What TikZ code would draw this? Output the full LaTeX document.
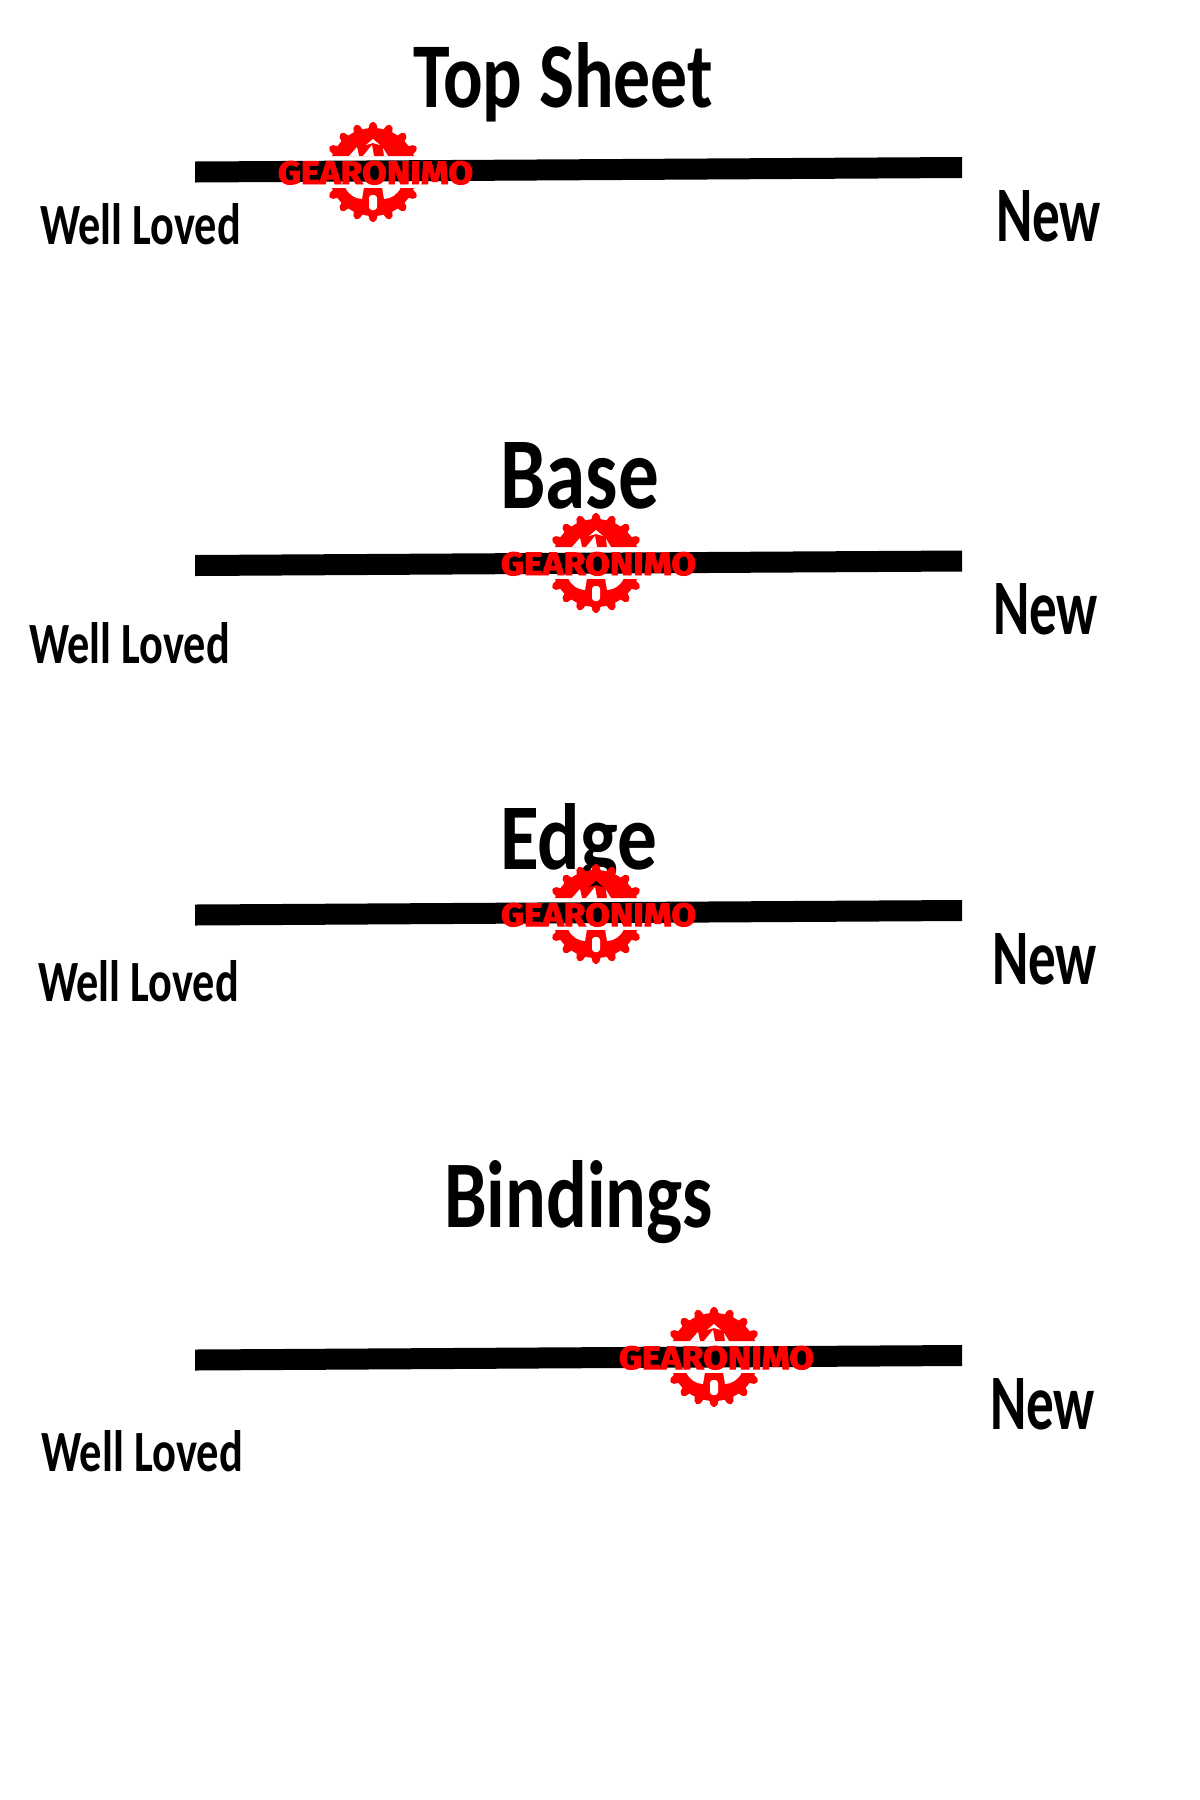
\documentclass[tikz,border=0pt]{standalone}
\usepackage{fontspec}
\usepackage{graphicx}
\setmainfont{Carlito}
\newfontfamily\logofont[FakeBold=3]{Fira Sans}
\newdimen\upx \upx=0.5pt
\definecolor{logored}{RGB}{255,0,0}
\tikzset{barfill/.style={fill=black,draw=none}}
\newcommand{\lbl}[6]{\node[anchor=base west,inner sep=0pt,outer sep=0pt] (#1) at (#2,#3) {\resizebox{#4\upx}{#5\upx}{\bfseries #6}};}
% name, gear x, gear y, colour seen through the hole at the peak
\newcommand{\gearlogo}[4]{%
\begin{scope}[shift={(#2,#3)}]
 \begin{scope}
  \clip (-60,-60) rectangle (60,-16) (-60,16) rectangle (60,60);
  \fill[logored] (0,0) circle (44);
  \foreach \a in {90,70,50,30,10,-10,-30,-50,-70,-90,-110,-130,-150,-170,170,150,130,110}
   \fill[logored,rounded corners=2\upx] (\a-7:42) -- (\a-3.2:50) -- (\a+3.2:50) -- (\a+7:42) -- cycle;
  \fill[white] (-24,-16) -- (-16,-25) -- (-14,-16) -- cycle;
  \fill[white] (-10,-16) -- (-1,-27) -- (1,-16) -- cycle;
  \fill[white] (10,-24) -- (15,-16) -- (11,-16) -- cycle;
  \fill[#4] (-7,-27) -- (0,-33) -- (7,-27) -- (0,-29) -- cycle;
  \fill[white] (-28,15) .. controls (-25,22) and (-18,27) .. (-11,27) -- (-9,15) -- cycle;
  \fill[white] (28,15) .. controls (25,22) and (18,27) .. (11,27) -- (9,15) -- cycle;
  \fill[white,rounded corners=3\upx] (-4,23) rectangle (4,38);
 \end{scope}
 \node[anchor=base,inner sep=0pt,text=logored] (#1) at (2.5,12) {\resizebox{195\upx}{23\upx}{\logofont\bfseries GEARONIMO}};
\end{scope}}
\begin{document}
\begin{tikzpicture}[x=0.5pt,y=-0.5pt]
\useasboundingbox (0,0) rectangle (1200,1800);
\fill[white] (0,0) rectangle (1200,1800);
\path[barfill] (195,161.5) -- (962,157) -- (962,178) -- (195,182.5) -- cycle;
\path[barfill] (195,555) -- (962,550.5) -- (962,571.5) -- (195,576) -- cycle;
\path[barfill] (195,904.5) -- (962,900) -- (962,921) -- (195,925.5) -- cycle;
\path[barfill] (195,1349.5) -- (962,1345) -- (962,1366) -- (195,1370.5) -- cycle;
\lbl{titleA}{413}{107}{300}{65}{Top Sheet}
\lbl{titleB}{500}{508}{159}{66}{Base}
\lbl{titleC}{500}{869}{157}{66}{Edge}
\lbl{titleD}{444}{1227}{269}{67}{Bindings}
\gearlogo{logoA}{373}{172}{white}
\gearlogo{logoB}{596}{563}{white}
\gearlogo{logoC}{596}{914}{black}
\gearlogo{logoD}{714}{1357}{white}
\lbl{wlA}{40}{244}{201}{41}{Well Loved}
\lbl{wlB}{29}{663}{201}{41}{Well Loved}
\lbl{wlC}{38}{1001}{201}{41}{Well Loved}
\lbl{wlD}{41}{1471}{202}{41}{Well Loved}
\lbl{newA}{996}{241}{105}{51}{New}
\lbl{newB}{993}{634}{105}{51}{New}
\lbl{newC}{992}{984}{105}{51}{New}
\lbl{newD}{990}{1429}{105}{51}{New}
\end{tikzpicture}
\end{document}
